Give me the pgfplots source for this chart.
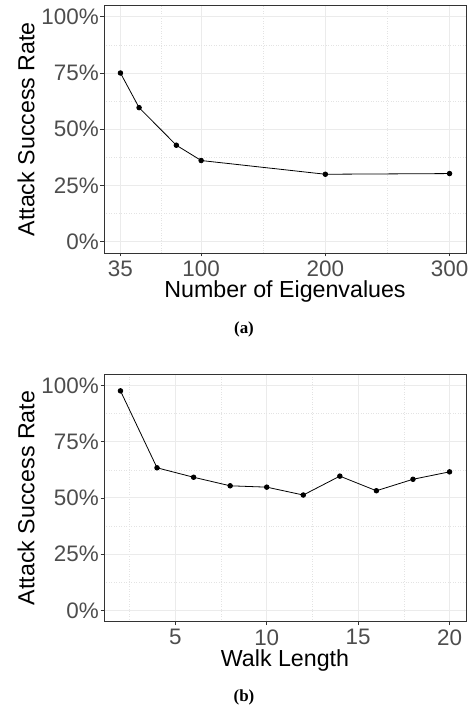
\documentclass[border=0pt]{standalone}
\usepackage{pgfplots}
\pgfplotsset{compat=1.18}
\usepackage{fontspec}
\setmainfont{Liberation Sans}
\newfontfamily\capfont{Liberation Serif}
\definecolor{gridmajor}{HTML}{EBEBEB}
\definecolor{gridminor}{HTML}{E3E3E3}
\definecolor{tickgrey}{HTML}{4D4D4D}
\definecolor{framegrey}{HTML}{333333}

\pgfplotsset{
  ggstyle/.style={
    scale only axis, width=362bp, height=247.5bp,
    axis line style={framegrey, line width=0.8bp},
    grid=both,
    major grid style={gridmajor, line width=0.9bp},
    minor grid style={gridminor, line width=0.5bp, dotted},
    tick style={framegrey, line width=0.8bp},
    major tick length=3.5bp,
    minor tick length=0pt,
    tick align=outside,
    xtick pos=bottom, ytick pos=left,
    ymin=-5, ymax=105,
    ytick={0,25,50,75,100},
    yticklabels={0\%,25\%,50\%,75\%,100\%},
    minor ytick={12.5,37.5,62.5,87.5},
    /pgf/number format/assume math mode=true,
    ticklabel style={font=\fontsize{22.5}{23}\selectfont, text=tickgrey},
    xticklabel style={inner sep=1bp, yshift=-3bp},
    yticklabel style={inner sep=1.5bp},
    every axis x label/.style={at={(axis description cs:0.5,-0.1806)}, anchor=base, font=\fontsize{23.3}{24}\selectfont},
    every axis y label/.style={at={(axis description cs:-0.2155,0.5)}, rotate=90, anchor=center, font=\fontsize{23.3}{24}\selectfont},
    ylabel={Attack Success Rate},
  },
  ggline/.style={black, line width=0.8bp, mark=*, mark size=2.3bp, mark options={solid, fill=black, draw=black}},
}

\begin{document}
\begin{tikzpicture}
\useasboundingbox (0,0) rectangle (473bp,706bp);
\begin{axis}[ggstyle,
  at={(104bp,453bp)}, anchor=south west,
  xmin=21.75, xmax=313.25,
  xtick={35,100,200,300},
  minor xtick={67.5,150,250},
  xlabel={Number of Eigenvalues},
]
\addplot[ggline] coordinates {(35,75.0) (50,59.6) (80,42.9) (100,36.1) (200,30.0) (300,30.3)};
\end{axis}
\node[font=\capfont\bfseries\fontsize{17}{18}\selectfont] at (244bp,377bp) {(a)};

\begin{axis}[ggstyle,
  at={(104bp,84.3bp)}, anchor=south west,
  xmin=1.1, xmax=20.9,
  xtick={5,10,15,20},
  minor xtick={2.5,7.5,12.5,17.5},
  xlabel={Walk Length},
]
\addplot[ggline] coordinates {(2,97.6) (4,63.4) (6,59.2) (8,55.4) (10,54.8) (12,51.3) (14,59.7) (16,53.2) (18,58.3) (20,61.6)};
\end{axis}
\node[font=\capfont\bfseries\fontsize{17}{18}\selectfont] at (244bp,8.5bp) {(b)};
\end{tikzpicture}
\end{document}
